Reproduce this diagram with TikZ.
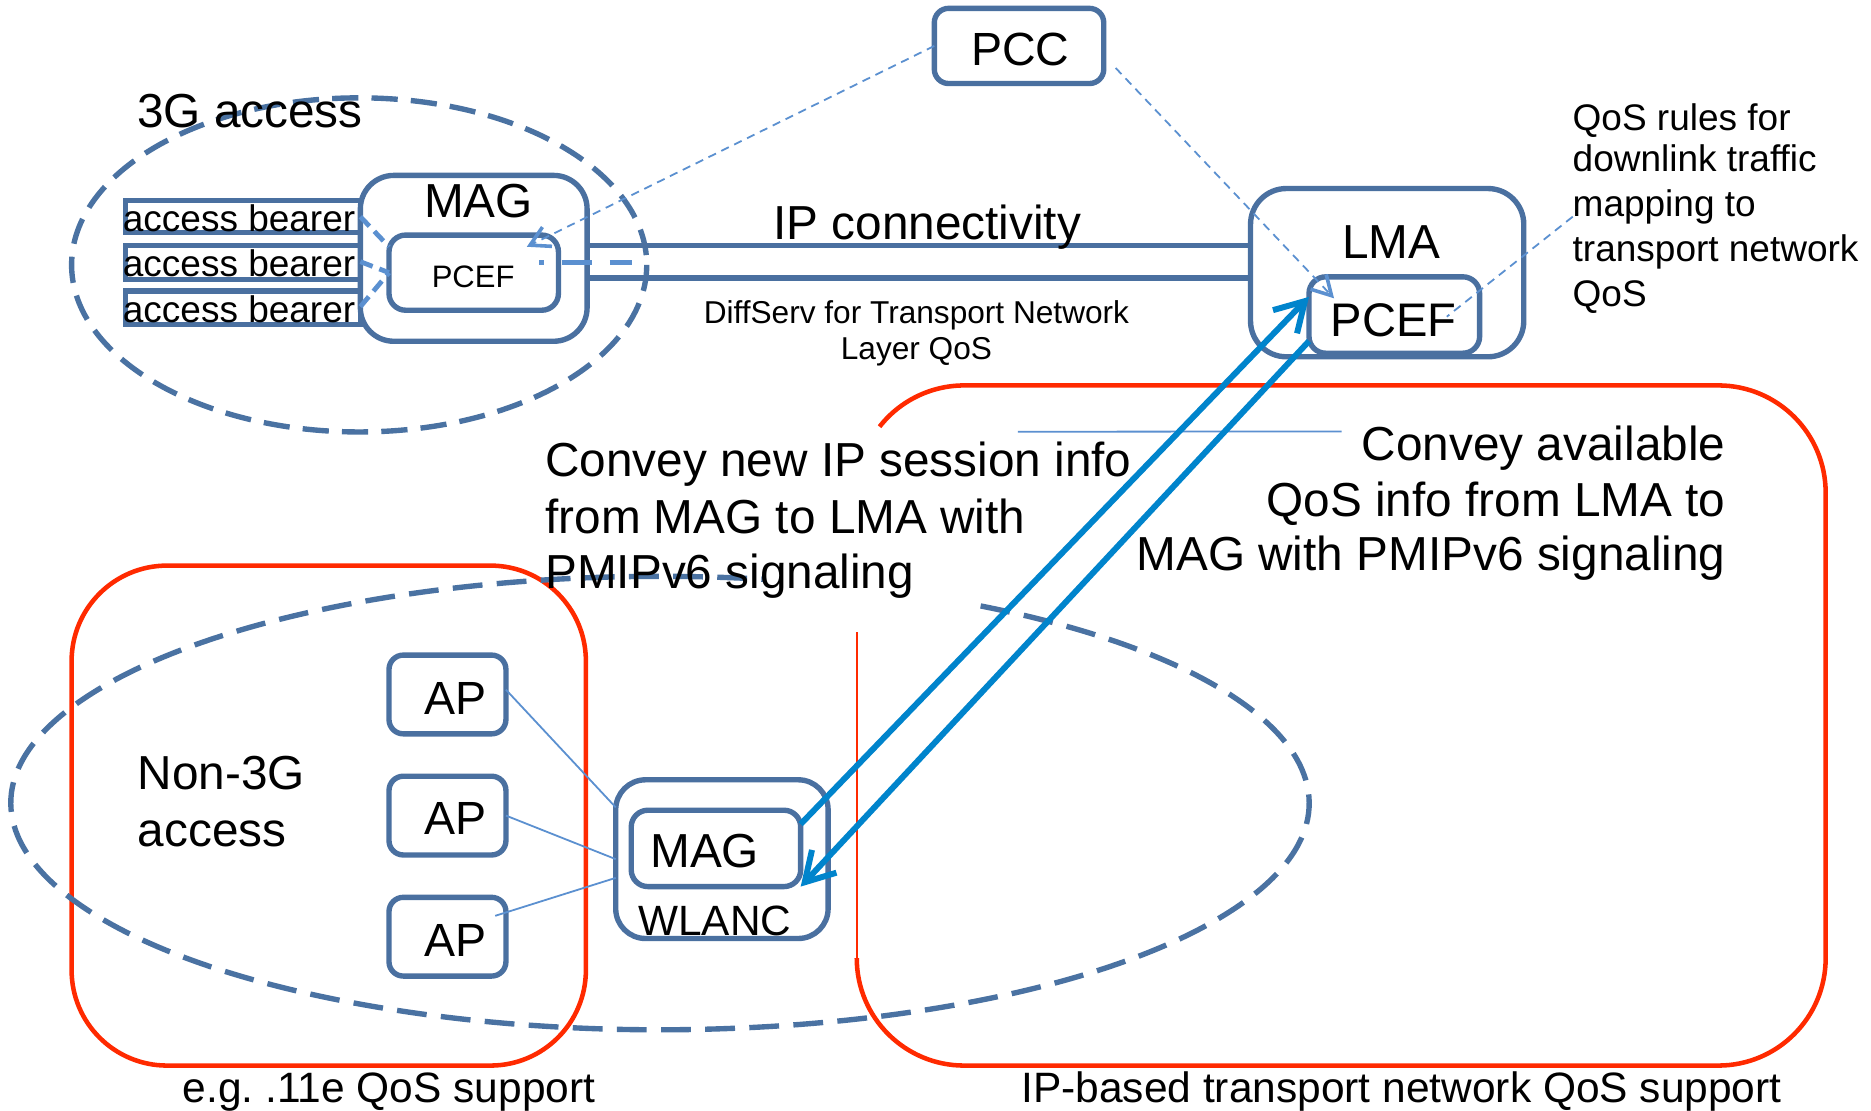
\documentclass[tikz,border=0pt]{standalone}
\usepackage{fontspec}
\setmainfont{Liberation Sans}
\usetikzlibrary{arrows.meta,calc}
\definecolor{boxblue}{HTML}{4A70A0}
\definecolor{ellblue}{HTML}{4A72A2}
\definecolor{ltblue}{HTML}{5B90D0}
\definecolor{arrblue}{HTML}{0084CC}
\definecolor{qred}{HTML}{FF2A00}
\newcommand{\myfs}[1]{\fontsize{#1pt}{#1pt}\selectfont}
\frenchspacing
\begin{document}
\begin{tikzpicture}[x=1pt,y=-1pt,
  every node/.style={inner sep=0pt, outer sep=0pt},
  box/.style={draw=boxblue, line width=4.5pt, rounded corners=#1},
  box/.default=14pt,
  bar/.style={draw=boxblue, line width=4.5pt, minimum width=197pt},
  txt/.style={text=black, anchor=base},
  txtl/.style={text=black, anchor=base west},
  txtr/.style={text=black, anchor=base east},
  pipe/.style={draw=boxblue, line width=4.5pt},
  ell/.style={draw=ellblue, line width=4.5pt, dash pattern=on 22pt off 11pt},
  elltwo/.style={draw=ellblue, line width=4.5pt, dash pattern=on 25pt off 12pt},
  redline/.style={draw=qred, line width=3.8pt},
  redthin/.style={draw=qred, line width=2pt},
  thinline/.style={draw=ltblue, line width=1.5pt},
  thindash/.style={draw=ltblue, line width=1.5pt, dash pattern=on 7pt off 5pt},
  opentip/.style={-{Straight Barb[length=16pt,width=18pt,line width=3pt]}},
  beardash/.style={draw=ltblue, line width=4pt, dash pattern=on 11pt off 6pt},
  sig/.style={draw=arrblue, line width=5pt, -{Straight Barb[length=24pt,width=28pt,line width=5pt]}}
]
\useasboundingbox (0,0) rectangle (1568,931);
\fill[white] (0,0) rectangle (1568,931);

% red regions
\draw[redline, rounded corners=80pt] (60,474) rectangle (491,893);
\draw[redline] (737.1,357.6) arc[start angle=218, end angle=270, radius=90]
  -- (1440,323) arc[start angle=270, end angle=360, radius=90]
  -- (1530,803) arc[start angle=0, end angle=90, radius=90]
  -- (808,893) arc[start angle=90, end angle=180, radius=90];
\draw[redthin] (718,803) -- (718,530);

% access ellipses
\draw[ell] (301,222) ellipse [x radius=241, y radius=140];
\draw[elltwo] (821.8,507.8) arc[start angle=299.6, end angle=639.2, x radius=544, y radius=190];

% 3G access
\node[txtl, font=\myfs{40}] (t3g) at (115,107) {3G access};
\node[bar, minimum height=27pt] (b1) at (203.5,181.5) {};
\node[bar, minimum height=28pt] (b2) at (203.5,220) {};
\node[bar, minimum height=28pt] (b3) at (203.5,258) {};
\node[txtl, font=\myfs{31}] (tb1) at (103,194) {access bearer};
\node[txtl, font=\myfs{31}] (tb2) at (103,232) {access bearer};
\node[txtl, font=\myfs{31}] (tb3) at (103,270) {access bearer};
\node[box=28pt, minimum width=190pt, minimum height=139pt] (mag3) at (397,216.5) {};
\node[txt, font=\myfs{40}] (mag3t) at (401,182) {MAG};
\node[box=14pt, minimum width=142pt, minimum height=63pt] (mpcef) at (397,228.5) {};
\node[txt, font=\myfs{26}] (mpceft) at (396.5,241) {PCEF};
\draw[beardash] (b1.east |- 0,181.6) -- (mpcef.163);
\draw[beardash] (b2.east |- 0,219.3) -- (mpcef.west);
\draw[beardash] (b3.east |- 0,257) -- (mpcef.west);

% pipe
\node[box=30pt, minimum width=229pt, minimum height=141pt] (lma) at (1162.5,228.5) {};
\draw[pipe] (mag3.east |- 0,206) -- (lma.west |- 0,206);
\draw[pipe] (mag3.east |- 0,233) -- (lma.west |- 0,233);
\coordinate (pcefend) at (530,220);
\draw[draw=ltblue, line width=4pt, dash pattern=on 25pt off 15pt, dash phase=21pt]
  ($(mpcef.east)+(-16,-8.5)$) -- (pcefend);
\node[txt, font=\myfs{40}] (ipc) at (777,201) {IP connectivity};
\node[txt, font=\myfs{26.5}] (ds1) at (768,271) {DiffServ for Transport Network};
\node[txt, font=\myfs{26.5}] (ds2) at (768,301) {Layer QoS};

% LMA
\node[txt, font=\myfs{40}] (lmat) at (1166,216.5) {LMA};
\node[box=14pt, minimum width=143pt, minimum height=64pt] (lpcef) at (1168.5,264) {};
\node[txt, font=\myfs{39.5}] (lpceft) at (1168,282) {PCEF};

% PCC
\node[box=12pt, minimum width=142pt, minimum height=63pt] (pcc) at (854,38.5) {};
\node[txt, font=\myfs{39}] (pcct) at (855,54.5) {PCC};
\draw[thindash, opentip] (pcc.west) -- ($(mpcef.north east)+(-26.5,9.8)$);
\draw[thindash, opentip] ($(pcc.south east)+(10,-13)$) -- ($(lpcef.north west)+(21,18)$);

% QoS rules note
\node[txtl, font=\myfs{31}] (q1) at (1318,109) {QoS rules for};
\node[txtl, font=\myfs{31}] (q2) at (1318,144) {downlink traffic};
\node[txtl, font=\myfs{31}] (q3) at (1318,181.6) {mapping to};
\node[txtl, font=\myfs{31}] (q4) at (1318,219) {transport network};
\node[txtl, font=\myfs{31}] (q5) at (1318,257) {QoS};
\draw[thindash] (q3.base west) -- ($(lpcef.center)+(44,1.4)$);

% signaling texts
\node[txtl, font=\myfs{40}] (cl1) at (457,399.6) {Convey new IP session info};
\node[txtl, font=\myfs{40}] (cl2) at (457,447) {from MAG to LMA with};
\node[txtl, font=\myfs{40}] (cl3) at (457,493) {PMIPv6 signaling};
\node[txtr, font=\myfs{40}] (cv1) at (1446,385.6) {Convey available};
\node[txtr, font=\myfs{40}] (cv2) at (1446,433) {QoS info from LMA to};
\node[txtr, font=\myfs{40}] (cv3) at (1446,478) {MAG with PMIPv6 signaling};
\coordinate (cvend) at (853,361.8);
\draw[thinline] ($(cv1.base west)+(-17,-24)$) -- (cvend);

% Non-3G access
\node[txtl, font=\myfs{40}] (n1) at (115.5,662) {Non-3G};
\node[txtl, font=\myfs{40}] (n2) at (115.5,709) {access};
\node[box=12pt, minimum width=98pt, minimum height=66pt] (ap1) at (375,582) {};
\node[box=12pt, minimum width=98pt, minimum height=66pt] (ap2) at (375,683.5) {};
\node[box=12pt, minimum width=98pt, minimum height=66pt] (ap3) at (375,785) {};
\node[txt, font=\myfs{39}] (ap1t) at (381.5,599) {AP};
\node[txt, font=\myfs{39}] (ap2t) at (381.5,699.7) {AP};
\node[txt, font=\myfs{39}] (ap3t) at (381.5,801.4) {AP};
\node[box=25pt, minimum width=178pt, minimum height=133pt] (wlanc) at (605,720) {};
\node[box=14pt, minimum width=142pt, minimum height=64pt] (wmag) at (600,711) {};
\node[txt, font=\myfs{40}] (wmagt) at (590.5,727) {MAG};
\node[txt, font=\myfs{35.5}] (wlanct) at (599,784) {WLANC};
\draw[thinline] (ap1.east |- 0,578) -- (wlanc.154);
\draw[thinline] (ap2.east) -- (wlanc.west);
\draw[thinline] ($(ap3.north east)+(-9,15.5)$) -- (wlanc.190);

% PMIPv6 signaling arrows
\draw[sig] (wmag.16) -- (lpcef.168);
\draw[sig] (lpcef.197) -- (wmag.south east);

% bottom captions
\node[txt, font=\myfs{35.6}] (cap1) at (326,924) {e.g. .11e QoS support};
\node[txt, font=\myfs{35.6}] (cap2) at (1174.5,924) {IP-based transport network QoS support};
\end{tikzpicture}
\end{document}
